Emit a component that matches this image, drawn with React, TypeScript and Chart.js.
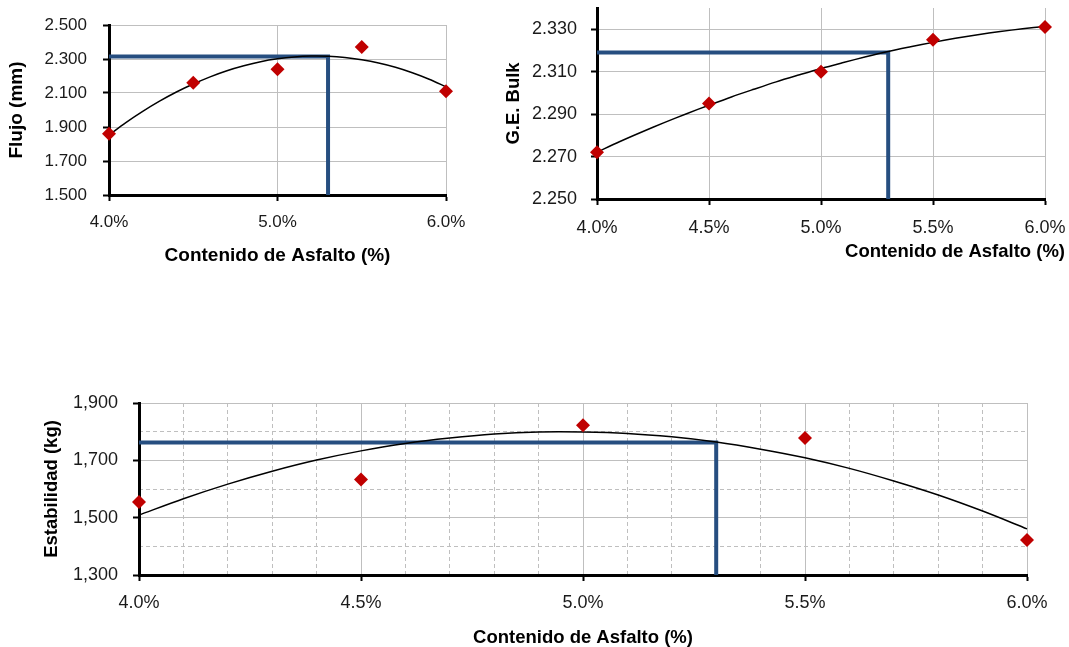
import React, { useEffect, useRef } from 'react';
import { Chart, registerables } from 'chart.js';
Chart.register(...registerables);

// ---------- data ----------
const asfalto = [4.0, 4.5, 5.0, 5.5, 6.0];
const flujo = [1.86, 2.16, 2.24, 2.37, 2.11];
const geBulk = [2.272, 2.295, 2.31, 2.325, 2.331];
const estabilidad = [1555, 1633, 1822, 1778, 1422];

const trendX = [4.0, 4.1, 4.2, 4.3, 4.4, 4.5, 4.6, 4.7, 4.8, 4.9, 5.0, 5.1, 5.2, 5.3, 5.4, 5.5, 5.6, 5.7, 5.8, 5.9, 6.0];
const flujoTrend = [1.853, 1.926, 1.992, 2.052, 2.106, 2.153, 2.195, 2.231, 2.26, 2.284, 2.301, 2.312, 2.317, 2.316, 2.309, 2.295, 2.276, 2.251, 2.219, 2.181, 2.137];
const geBulkTrend = [2.2721, 2.277, 2.2816, 2.286, 2.2902, 2.2942, 2.2981, 2.3017, 2.3052, 2.3084, 2.3115, 2.3143, 2.317, 2.3195, 2.3217, 2.3238, 2.3257, 2.3274, 2.3289, 2.3302, 2.3313];
const estabilidadTrend = [1509, 1566, 1617, 1662, 1701, 1733, 1759, 1778, 1792, 1799, 1799, 1794, 1782, 1764, 1739, 1709, 1672, 1628, 1579, 1523, 1461];

const contenidoOptimo = 5.3;
const flujoOptimo = 2.315;
const geBulkOptimo = 2.319;
const estabilidadOptimo = 1762;

const xTicksFlujo = [4.0, 5.0, 6.0];
const xTicks = [4.0, 4.5, 5.0, 5.5, 6.0];
const xMinorTicks = [4.1, 4.2, 4.3, 4.4, 4.6, 4.7, 4.8, 4.9, 5.1, 5.2, 5.3, 5.4, 5.6, 5.7, 5.8, 5.9];
const flujoTicks = [1.5, 1.7, 1.9, 2.1, 2.3, 2.5];
const geBulkTicks = [2.25, 2.27, 2.29, 2.31, 2.33];
const estabilidadTicks = [1300, 1500, 1700, 1900];
const estabilidadMinorTicks = [1400, 1600, 1800];

const xTitle = 'Contenido de Asfalto (%)';

// ---------- styles ----------
const FONT = "'Liberation Sans', Arial, sans-serif";
const RED = '#C00000';
const BLUE = '#264E80';
const GRID = '#BFBFBF';

const endTitle = {
  id: 'endTitle',
  afterDraw(chart: any, _a: any, opts: any) {
    if (!opts || !opts.text) return;
    const ctx = chart.ctx;
    ctx.save();
    ctx.font = `bold ${opts.size}px ${FONT}`;
    ctx.fillStyle = '#000';
    ctx.textAlign = 'right';
    ctx.textBaseline = 'middle';
    ctx.fillText(opts.text, opts.x, opts.y);
    ctx.restore();
  },
};

const setTicks = (arr: number[]) => (axis: any) => {
  axis.ticks = arr.map((v) => ({ value: v }));
};

function buildConfig(s: any) {
  const pts = asfalto.map((x, i) => ({ x, y: s.values[i] }));
  const trend = trendX.map((x, i) => ({ x, y: s.trend[i] }));
  const opt = [
    { x: asfalto[0], y: s.optimo },
    { x: contenidoOptimo, y: s.optimo },
    { x: contenidoOptimo, y: s.yMin },
  ];
  const scales: any = {
    x: {
      type: 'linear',
      position: 'bottom',
      min: 4,
      max: 6,
      afterBuildTicks: setTicks(s.xTicks),
      afterFit: (sc: any) => {
        sc.height = s.xH;
        sc.paddingLeft = 0;
        sc.paddingRight = 0;
      },
      ticks: {
        autoSkip: false,
        maxRotation: 0,
        padding: s.xTickPad,
        color: '#1a1a1a',
        font: { family: FONT, size: s.tickSize },
        callback: (v: number) => v.toFixed(1) + '%',
      },
      grid: { color: GRID, lineWidth: 1, tickLength: 6, tickColor: '#000', tickWidth: 2 },
      border: { color: '#000', width: 3 },
      title: s.xTitleEnd
        ? { display: false }
        : {
            display: true,
            text: xTitle,
            color: '#000',
            font: { family: FONT, size: s.titleSize, weight: 'bold', lineHeight: 1 },
            padding: { top: 0, bottom: s.xTitlePad },
          },
    },
    y: {
      type: 'linear',
      position: 'left',
      min: s.yMin,
      max: s.yMax,
      afterBuildTicks: setTicks(s.yTicks),
      afterFit: (sc: any) => {
        sc.width = s.yW;
        sc.paddingTop = 0;
        sc.paddingBottom = 0;
      },
      ticks: {
        padding: s.yTickPad,
        color: '#1a1a1a',
        font: { family: FONT, size: s.tickSize },
        callback: s.yFmt,
      },
      grid: { color: GRID, lineWidth: 1, tickLength: 6, tickColor: '#000', tickWidth: 2 },
      border: { color: '#000', width: 3 },
      title: {
        display: true,
        text: s.yTitle,
        color: '#000',
        font: { family: FONT, size: s.yTitleSize, weight: 'bold', lineHeight: 1 },
        padding: { top: s.yTitlePad, bottom: 0 },
      },
    },
  };
  if (s.xMinor) {
    scales.x2 = {
      type: 'linear',
      position: 'top',
      min: 4,
      max: 6,
      afterBuildTicks: setTicks(s.xMinor),
      afterFit: (sc: any) => {
        sc.height = 0;
        sc.paddingLeft = 0;
        sc.paddingRight = 0;
      },
      ticks: { display: false },
      grid: { color: GRID, lineWidth: 1, drawTicks: false },
      border: { display: false, dash: [4, 3] },
    };
  }
  if (s.yMinor) {
    scales.y2 = {
      type: 'linear',
      position: 'right',
      min: s.yMin,
      max: s.yMax,
      afterBuildTicks: setTicks(s.yMinor),
      afterFit: (sc: any) => {
        sc.width = 0;
        sc.paddingTop = 0;
        sc.paddingBottom = 0;
      },
      ticks: { display: false },
      grid: { color: GRID, lineWidth: 1, drawTicks: false },
      border: { display: false, dash: [4, 3] },
    };
  }
  return {
    type: 'scatter',
    data: {
      datasets: [
        {
          data: pts,
          order: 0,
          pointStyle: 'rectRot',
          pointRadius: 7,
          pointBackgroundColor: RED,
          pointBorderColor: RED,
          pointBorderWidth: 0,
          showLine: false,
          clip: false,
        },
        {
          data: trend,
          order: 1,
          showLine: true,
          borderColor: '#000',
          borderWidth: 1.5,
          pointRadius: 0,
          tension: 0.3,
          fill: false,
          clip: false,
        },
        {
          data: opt,
          order: 2,
          showLine: true,
          borderColor: BLUE,
          borderWidth: 4,
          pointRadius: 0,
          tension: 0,
          fill: false,
          clip: false,
        },
      ],
    },
    options: {
      responsive: false,
      animation: false,
      events: [],
      layout: { padding: s.padding },
      scales,
      plugins: {
        legend: { display: false },
        tooltip: { enabled: false },
        endTitle: s.xTitleEnd ? { text: xTitle, size: s.titleSize, x: s.xTitleEnd.x, y: s.xTitleEnd.y } : {},
      },
    },
    plugins: [endTitle],
  };
}

const specs: any[] = [
  {
    box: { left: 0, top: 0, w: 480, h: 270 },
    values: flujo, trend: flujoTrend, optimo: flujoOptimo,
    yMin: 1.5, yMax: 2.5, yTicks: flujoTicks, xTicks: xTicksFlujo,
    yFmt: (v: number) => v.toFixed(3),
    yTitle: 'Flujo (mm)',
    padding: { top: 25, right: 34, left: 0, bottom: 0 },
    yW: 109, xH: 75,
    tickSize: 17, titleSize: 19, yTitleSize: 19,
    yTickPad: 16, xTickPad: 11, yTitlePad: 7, xTitlePad: 5,
  },
  {
    box: { left: 490, top: 0, w: 579, h: 270 },
    values: geBulk, trend: geBulkTrend, optimo: geBulkOptimo,
    yMin: 2.25, yMax: 2.34, yTicks: geBulkTicks, xTicks: xTicks,
    yFmt: (v: number) => v.toFixed(3),
    yTitle: 'G.E. Bulk',
    padding: { top: 8, right: 24, left: 0, bottom: 0 },
    yW: 107, xH: 71,
    tickSize: 18, titleSize: 18.5, yTitleSize: 18.5,
    yTickPad: 14, xTickPad: 12, yTitlePad: 15, xTitlePad: 0,
    xTitleEnd: { x: 575, y: 252 },
  },
  {
    box: { left: 0, top: 380, w: 1069, h: 267 },
    values: estabilidad, trend: estabilidadTrend, optimo: estabilidadOptimo,
    yMin: 1300, yMax: 1900, yTicks: estabilidadTicks, xTicks: xTicks,
    xMinor: xMinorTicks, yMinor: estabilidadMinorTicks,
    yFmt: (v: number) => v.toLocaleString('en-US'),
    yTitle: 'Estabilidad (kg)',
    padding: { top: 23, right: 42, left: 0, bottom: 0 },
    yW: 139, xH: 72,
    tickSize: 18, titleSize: 18.5, yTitleSize: 18.5,
    yTickPad: 15, xTickPad: 11, yTitlePad: 43, xTitlePad: 0,
  },
];

function ChartBox({ spec }: { spec: any }) {
  const ref = useRef<HTMLCanvasElement>(null);
  useEffect(() => {
    const chart = new Chart(ref.current as HTMLCanvasElement, buildConfig(spec) as any);
    return () => chart.destroy();
  }, [spec]);
  const { left, top, w, h } = spec.box;
  return (
    <div style={{ position: 'absolute', left, top, width: w, height: h }}>
      <canvas ref={ref} width={w} height={h} style={{ width: w, height: h, display: 'block' }} />
    </div>
  );
}

export default function App() {
  return (
    <div style={{ position: 'absolute', left: 0, top: 0, width: 1069, height: 647, background: '#fff', overflow: 'hidden' }}>
      {specs.map((s, i) => (
        <ChartBox key={i} spec={s} />
      ))}
    </div>
  );
}
